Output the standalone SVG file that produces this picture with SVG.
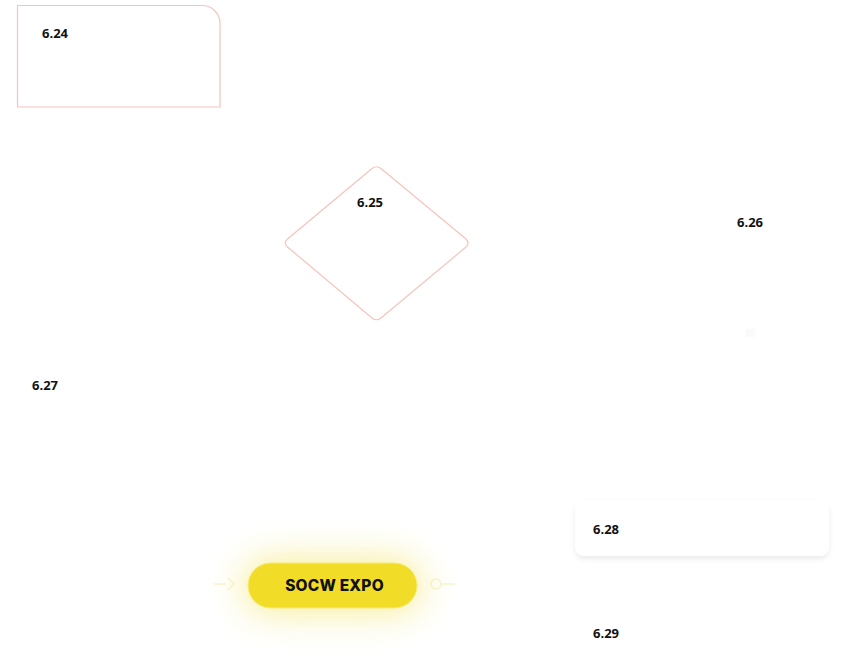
<svg xmlns="http://www.w3.org/2000/svg" width="859" height="663" viewBox="0 0 859 663">
<defs>
<style>
.lbl{font-family:"Open Sans","Noto Sans","Liberation Sans",sans-serif;font-weight:700;font-size:13px;fill:#111}
.pink{fill:#fff;stroke:#f6c4bb;stroke-width:1.2}
.faint{fill:none;stroke:#f8f3d0;stroke-width:1.5}
</style>
<filter id="glow" x="-80%" y="-200%" width="260%" height="500%">
<feGaussianBlur stdDeviation="18"/>
</filter>
<filter id="shadow" x="-10%" y="-30%" width="120%" height="170%">
<feDropShadow dx="0" dy="3" stdDeviation="2.5" flood-color="#000" flood-opacity="0.08"/>
</filter>
</defs>
<rect width="859" height="663" fill="#fff"/>
<g id="connectors">
<path class="faint" d="M228 578 L234 584 L228 590"/>
<path class="faint" d="M214 584 L226 584"/>
<circle class="faint" cx="436" cy="584" r="5"/>
<path class="faint" d="M441 584 L455 584"/>
</g>
<g id="n624">
<path class="pink" d="M17.5 5.5 H202 A18 18 0 0 1 220 23.5 V107 H17.5 Z"/>
<text class="lbl" x="42" y="38">6.24</text>
</g>
<g id="n625">
<path class="pink" d="M372 168.5 Q376.5 165 381 168.5 L466 239 Q470 243 466 247 L381 318 Q376.5 321.5 372 318 L287.5 247 Q283 243 287.5 239 Z"/>
<text class="lbl" x="357" y="207">6.25</text>
</g>
<g id="n626">
<text class="lbl" x="737" y="227">6.26</text>
<rect x="746" y="329" width="9" height="8" fill="#fafafa"/>
</g>
<g id="n627">
<text class="lbl" x="32" y="390">6.27</text>
</g>
<g id="n628">
<rect x="575" y="500" width="254" height="56" rx="9" fill="#fff" filter="url(#shadow)"/>
<text class="lbl" x="593" y="534">6.28</text>
</g>
<g id="n629">
<text class="lbl" x="593" y="638">6.29</text>
</g>
<g id="expo">
<rect x="244" y="560" width="177" height="52" rx="26" fill="#eedc2a" opacity="0.5" filter="url(#glow)"/>
<rect x="248" y="563" width="169" height="45" rx="22.5" fill="#f1dc28" stroke="#f7ec7a" stroke-width="1"/>
<text x="334.5" y="591" text-anchor="middle" font-family="Inter,'Open Sans','Liberation Sans',sans-serif" font-weight="800" font-size="15.5" letter-spacing="0.2" fill="#111">SOCW EXPO</text>
</g>
</svg>
